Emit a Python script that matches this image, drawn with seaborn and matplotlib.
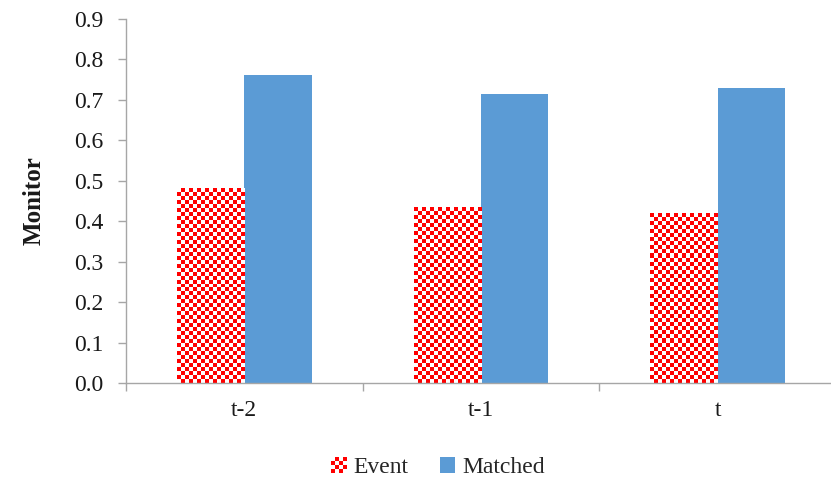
import numpy as np
import pandas as pd
import matplotlib
matplotlib.use("Agg")
import matplotlib.pyplot as plt
import seaborn as sns
from matplotlib.patches import Rectangle
from matplotlib.colors import ListedColormap

categories = ["t-2", "t-1", "t"]
event_values = [0.481, 0.435, 0.420]
matched_values = [0.762, 0.714, 0.729]
series_names = ["Event", "Matched"]
y_ticks = [0.0, 0.1, 0.2, 0.3, 0.4, 0.5, 0.6, 0.7, 0.8, 0.9]

RED = "#FF0000"
BLUE = "#5B9BD5"
AXIS_GRAY = "#A6A6A6"
FS = 17

sns.set_theme(style="white")
plt.rcParams["font.family"] = ["Liberation Serif", "DejaVu Serif"]

df = pd.DataFrame({
    "cat": categories * 2,
    "series": [series_names[0]] * 3 + [series_names[1]] * 3,
    "value": event_values + matched_values,
})

W, H = 831, 482
fig = plt.figure(figsize=(W / 100, H / 100), dpi=100)
ax = fig.add_axes([126 / W, 1 - 383 / H, (836 - 126) / W, (383 - 19) / H])

sns.barplot(data=df, x="cat", y="value", hue="series", order=categories,
            hue_order=series_names, palette=[RED, BLUE], width=0.57,
            saturation=1, ax=ax, legend=False, errorbar=None)

ax.set_xlim(-0.5, 2.5)
ax.set_ylim(0, 0.9)

# checker pattern for Event bars
checker_cmap = ListedColormap(["white", RED])
px_per_x = (836 - 126) / 3.0
px_per_y = (383 - 19) / 0.9
cell = 4.0
for bar in ax.containers[0]:
    x0, y0 = bar.get_x(), bar.get_y()
    w, h = bar.get_width(), bar.get_height()
    nx = max(1, int(round(w * px_per_x / cell)))
    ny = max(1, int(round(h * px_per_y / cell)))
    grid = (np.add.outer(np.arange(ny), np.arange(nx)) % 2).astype(float)
    bar.set_facecolor("none")
    bar.set_edgecolor("none")
    ax.imshow(grid, cmap=checker_cmap, extent=(x0, x0 + w, y0, y0 + h),
              origin="lower", aspect="auto", interpolation="nearest",
              zorder=bar.get_zorder(), vmin=0, vmax=1)
ax.set_xlim(-0.5, 2.5)
ax.set_ylim(0, 0.9)
ax.set_aspect("auto")

for bar in ax.containers[1]:
    bar.set_edgecolor("none")

# spines
for s in ["top", "right"]:
    ax.spines[s].set_visible(False)
for s in ["left", "bottom"]:
    ax.spines[s].set_color(AXIS_GRAY)
    ax.spines[s].set_linewidth(1.0)

ax.set_yticks(y_ticks)
ax.set_yticklabels([f"{v:.1f}" for v in y_ticks], fontsize=FS, color="#1a1a1a")
ax.tick_params(axis="y", direction="out", length=6, width=1, color=AXIS_GRAY, pad=10, left=True)

ax.set_xticks(range(len(categories)))
ax.set_xticklabels(categories, fontsize=FS, color="#1a1a1a")
ax.tick_params(axis="x", which="major", length=0, pad=12, bottom=True)
ax.set_xticks([-0.5, 0.5, 1.5, 2.5], minor=True)
ax.tick_params(axis="x", which="minor", direction="out", length=6, width=1,
               color=AXIS_GRAY, bottom=True)

ax.set_xlabel("")
ax.set_ylabel("Monitor", fontsize=18, fontweight="bold", color="#1a1a1a")
ax.yaxis.set_label_coords((46 - 126) / (836 - 126), 0.5)
ax.grid(False)


class CheckerHandler:
    def legend_artist(self, legend, orig_handle, fontsize, handlebox):
        x0, y0 = handlebox.xdescent, handlebox.ydescent
        w, h = handlebox.width, handlebox.height
        size = min(w, h)
        n = 4
        c = size / n
        ox = x0 + (w - size) / 2
        oy = y0 + (h - size) / 2
        handlebox.add_artist(Rectangle((ox, oy), size, size, facecolor="white",
                                       edgecolor="none", transform=handlebox.get_transform()))
        r = None
        for i in range(n):
            for j in range(n):
                if (i + j) % 2 == 0:
                    r = Rectangle((ox + i * c, oy + j * c), c, c, facecolor=RED,
                                  edgecolor="none", transform=handlebox.get_transform())
                    handlebox.add_artist(r)
        return r


class SquareHandler:
    def legend_artist(self, legend, orig_handle, fontsize, handlebox):
        x0, y0 = handlebox.xdescent, handlebox.ydescent
        w, h = handlebox.width, handlebox.height
        size = min(w, h)
        r = Rectangle((x0 + (w - size) / 2, y0 + (h - size) / 2), size, size,
                      facecolor=BLUE, edgecolor="none", transform=handlebox.get_transform())
        handlebox.add_artist(r)
        return r


h_event = Rectangle((0, 0), 1, 1, facecolor=RED)
h_matched = Rectangle((0, 0), 1, 1, facecolor=BLUE)
fig.legend([h_event, h_matched], series_names,
           handler_map={h_event: CheckerHandler(), h_matched: SquareHandler()},
           loc="center", bbox_to_anchor=(438 / W, 1 - 467 / H), ncol=2,
           frameon=False, fontsize=FS, handlelength=0.65, handleheight=0.65,
           handletextpad=0.3, columnspacing=1.3)

fig.savefig("out.png", dpi=100)
